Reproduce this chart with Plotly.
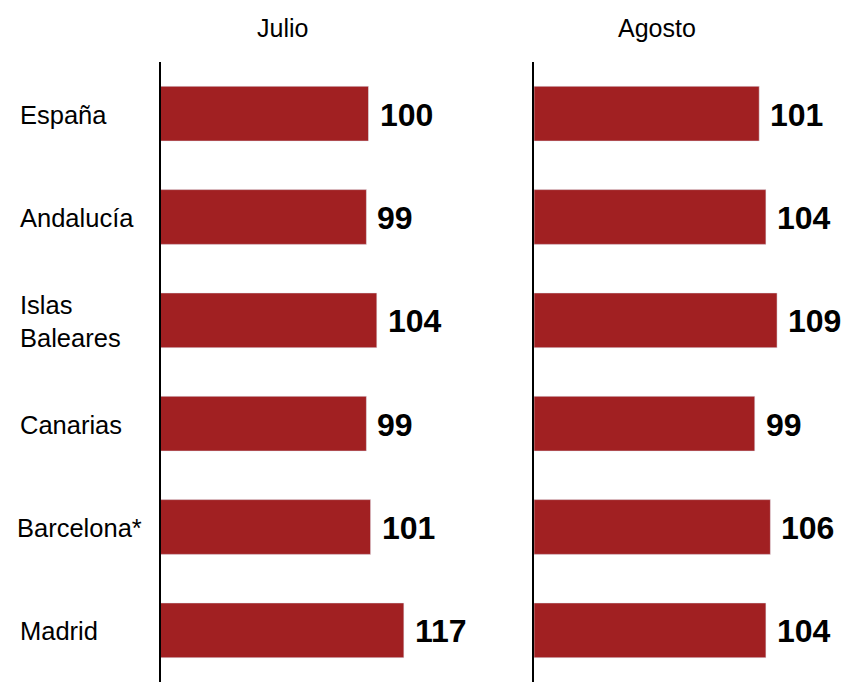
import plotly.graph_objects as go

categories = ["España", "Andalucía", "Islas<br>Baleares", "Canarias", "Barcelona*", "Madrid"]
julio = [100, 99, 104, 99, 101, 117]
agosto = [101, 104, 109, 99, 106, 104]
panel_titles = ["Julio", "Agosto"]

W, H = 856, 686
BAR = "#A12022"
FONT = "Liberation Sans, Arial, sans-serif"

# pixel geometry
top, bottom = 62, 682
x1_start, x1_end = 160.5, 520
x2_start, x2_end = 534, 856
scale1, scale2 = 2.08, 2.23

fig = go.Figure()
fig.add_trace(go.Bar(y=categories, x=julio, orientation="h", marker_color=BAR,
                     xaxis="x", yaxis="y", width=0.53, hoverinfo="skip"))
fig.add_trace(go.Bar(y=categories, x=agosto, orientation="h", marker_color=BAR,
                     xaxis="x2", yaxis="y2", width=0.53, hoverinfo="skip"))

ann = []
for vals, xr, yr in [(julio, "x", "y"), (agosto, "x2", "y2")]:
    for c, v in zip(categories, vals):
        ann.append(dict(x=v, y=c, xref=xr, yref=yr, text=f"<b>{v}</b>", showarrow=False,
                        xanchor="left", yanchor="middle", xshift=9, yshift=-1,
                        font=dict(family=FONT, size=32, color="black")))

for c in categories:
    xpx = 14.5 if c == "Barcelona*" else 18
    ann.append(dict(x=xpx / W, y=c, xref="paper", yref="y", text=c, showarrow=False,
                    xanchor="left", yanchor="middle", align="left", yshift=-1,
                    font=dict(family=FONT, size=25.5, color="black")))

title_y = (bottom - 28) / (bottom - top)
for t, cx in zip(panel_titles, [282, 656.5]):
    ann.append(dict(x=cx / W, y=title_y, xref="paper", yref="paper", text=t, showarrow=False,
                    xanchor="center", yanchor="middle",
                    font=dict(family=FONT, size=25, color="black")))

yax = dict(categoryorder="array", categoryarray=categories, autorange="reversed",
           showticklabels=False, ticks="", showgrid=False, zeroline=False,
           showline=True, linecolor="black", linewidth=1.5, domain=[0, 1])

fig.update_layout(
    width=W, height=H,
    margin=dict(l=0, r=0, t=top, b=H - bottom),
    plot_bgcolor="white", paper_bgcolor="white",
    showlegend=False, bargap=0.47,
    xaxis=dict(domain=[x1_start / W, x1_end / W], range=[0, (x1_end - x1_start) / scale1],
               visible=False, fixedrange=True),
    xaxis2=dict(domain=[x2_start / W, x2_end / W], range=[0, (x2_end - x2_start) / scale2],
                visible=False, fixedrange=True),
    yaxis=dict(anchor="x", **yax),
    yaxis2=dict(anchor="x2", **yax),
    annotations=ann,
)

fig.write_html("out.html", config={"displayModeBar": False},
               post_script="document.body.style.margin='0';document.body.style.overflow='hidden';")
